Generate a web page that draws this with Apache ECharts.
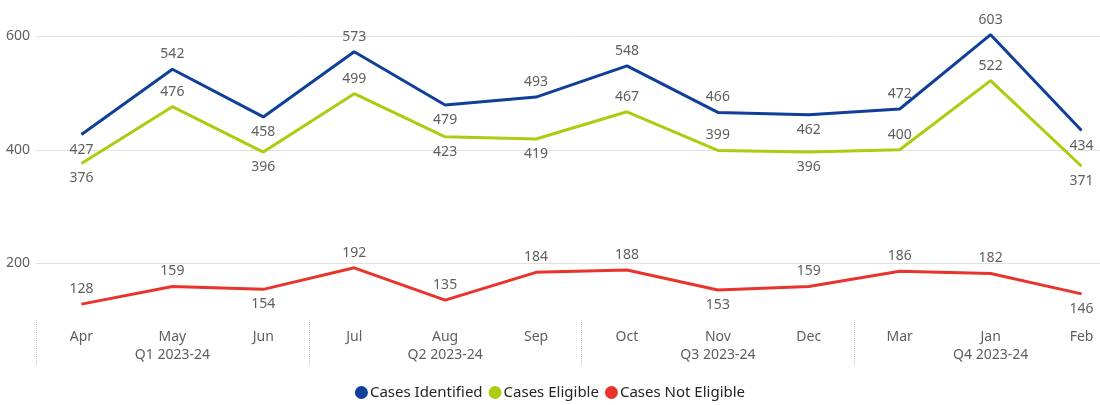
<!DOCTYPE html>
<html>
<head>
<meta charset="utf-8">
<script src="https://cdn.jsdelivr.net/npm/echarts@6/dist/echarts.min.js"></script>
<style>
  html, body { margin: 0; padding: 0; background: #fff; }
  #main { width: 1100px; height: 405px; }
</style>
</head>
<body>
<div id="main"></div>
<script>
var months = ['Apr', 'May', 'Jun', 'Jul', 'Aug', 'Sep', 'Oct', 'Nov', 'Dec', 'Mar', 'Jan', 'Feb'];
var quarters = ['Q1 2023-24', 'Q2 2023-24', 'Q3 2023-24', 'Q4 2023-24'];
var identified = [427, 542, 458, 573, 479, 493, 548, 466, 462, 472, 603, 434];
var eligible = [376, 476, 396, 499, 423, 419, 467, 399, 396, 400, 522, 371];
var notEligible = [128, 159, 154, 192, 135, 184, 188, 153, 159, 186, 182, 146];

// label side for each point (t = above, b = below)
var identifiedPos = 'btbtbtttbttb';
var eligiblePos = 'btbtbbttbttb';
var notEligiblePos = 'ttbttttbtttb';

var chart = echarts.init(document.getElementById('main'));
var font = 'Noto Sans';

function withLabels(values, pos) {
  return values.map(function (v, i) {
    return { value: v, label: { position: pos[i] === 't' ? 'top' : 'bottom' } };
  });
}

function lineSeries(name, color, values, pos) {
  return {
    name: name,
    type: 'line',
    data: withLabels(values, pos),
    symbol: 'circle',
    symbolSize: 0.1,
    lineStyle: { width: 3, color: color },
    itemStyle: { color: color },
    label: {
      show: true,
      fontFamily: font,
      fontSize: 14,
      color: '#605E5C',
      distance: 8
    }
  };
}

var option = {
  animation: false,
  textStyle: { fontFamily: font },
  grid: { left: 36, width: 1091, top: 8, bottom: 85, outerBoundsMode: 'none' },
  legend: {
    bottom: 0,
    icon: 'circle',
    itemWidth: 13,
    itemHeight: 13,
    itemGap: 6,
    textStyle: { fontFamily: font, fontSize: 15, color: '#252423', padding: [0, 0, 0, -3] }
  },
  xAxis: [{
    type: 'category',
    data: months,
    boundaryGap: true,
    axisLine: { show: false },
    axisTick: { show: false },
    axisLabel: { fontFamily: font, fontSize: 14, color: '#605E5C', margin: 10 }
  }, {
    type: 'category',
    data: quarters,
    position: 'bottom',
    boundaryGap: true,
    axisLine: { show: false },
    axisTick: {
      show: true,
      length: 46,
      lineStyle: { color: '#C8C6C4', type: 'dotted', width: 1 }
    },
    axisLabel: { fontFamily: font, fontSize: 14, color: '#605E5C', margin: 28 }
  }],
  yAxis: {
    type: 'value',
    min: 100,
    max: 650,
    interval: 100,
    axisLine: { show: false },
    axisTick: { show: false },
    axisLabel: {
      fontFamily: font,
      fontSize: 14,
      color: '#605E5C',
      margin: 6,
      formatter: function (v) { return v % 200 === 0 ? String(v) : ''; }
    },
    splitLine: { lineStyle: { color: ['transparent', '#E1E1E1'], width: 1 } }
  },
  series: [
    lineSeries('Cases Identified', '#0F3F99', identified, identifiedPos),
    lineSeries('Cases Eligible', '#AECB10', eligible, eligiblePos),
    lineSeries('Cases Not Eligible', '#E8342B', notEligible, notEligiblePos)
  ]
};

chart.setOption(option);
</script>
</body>
</html>
